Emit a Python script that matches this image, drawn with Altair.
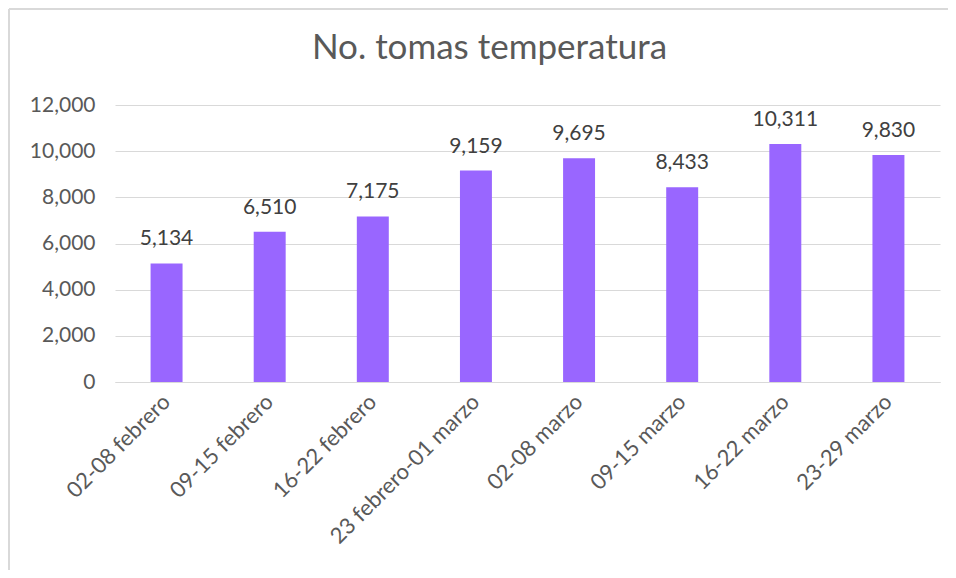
import altair as alt
import pandas as pd

categories = ["02-08 febrero", "09-15 febrero", "16-22 febrero", "23 febrero-01 marzo",
              "02-08 marzo", "09-15 marzo", "16-22 marzo", "23-29 marzo"]
values = [5134, 6510, 7175, 9159, 9695, 8433, 10311, 9830]
y_ticks = [0, 2000, 4000, 6000, 8000, 10000, 12000]

df = pd.DataFrame({"semana": categories, "tomas": values})

FONT = "Lato"
W, H = 825, 277

x_enc = alt.X("semana:N", sort=categories, title=None,
              scale=alt.Scale(paddingInner=0.69, paddingOuter=0.345),
              axis=alt.Axis(labelAngle=-45, labelAlign="right", labelBaseline="middle",
                            labelPadding=16, ticks=False, domain=True, domainColor="#D9D9D9",
                            labelFontSize=22, labelColor="#595959", labelFont=FONT,
                            labelLimit=400))
y_enc = alt.Y("tomas:Q", title=None,
              scale=alt.Scale(domain=[0, 12000], nice=False),
              axis=alt.Axis(values=y_ticks, format=",d", ticks=False, domain=False,
                            grid=True, gridColor="#D9D9D9", gridWidth=1,
                            labelPadding=20, labelFontSize=21, labelColor="#595959",
                            labelFont=FONT))

bars = alt.Chart(df).mark_bar(color="#9966FF").encode(x=x_enc, y=y_enc)

labels = alt.Chart(df).mark_text(baseline="alphabetic", dy=-18, fontSize=21,
                                 color="#404040", font=FONT).encode(
    x=alt.X("semana:N", sort=categories),
    y="tomas:Q",
    text=alt.Text("tomas:Q", format=",d"),
)

frame_left = alt.Chart(df).mark_rule(color="#D9D9D9", strokeWidth=1.5).encode(
    x=alt.value(-106), y=alt.value(-96), y2=alt.value(H + 200))
frame_top = alt.Chart(df).mark_rule(color="#D9D9D9", strokeWidth=1.5).encode(
    y=alt.value(-96), x=alt.value(-106), x2=alt.value(W + 20))

chart = alt.layer(frame_left, frame_top, bars, labels).properties(
    width=W, height=H,
    autosize=alt.AutoSizeParams(type="none"),
    padding={"left": 107, "top": 97, "right": 8, "bottom": 188},
    title=alt.TitleParams("No. tomas temperatura", fontSize=35, font=FONT,
                          fontWeight="normal", color="#595959", anchor="middle",
                          baseline="alphabetic", offset=-86, dx=-38),
).configure(background="white").configure_view(stroke=None)

chart.save("out.html", embed_options={"renderer": "svg", "actions": False})
